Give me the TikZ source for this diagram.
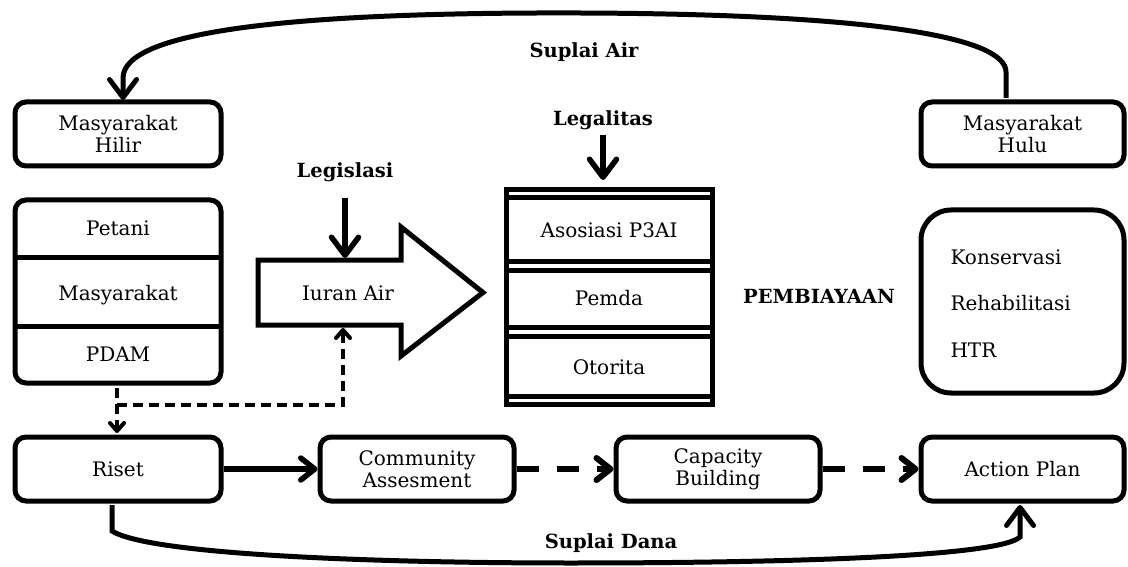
\documentclass[tikz,border=0pt]{standalone}
\usepackage{fontspec}
\setmainfont{DejaVu Serif}
\usetikzlibrary{arrows.meta}
\begin{document}
\begin{tikzpicture}[x=1pt,y=-1pt,
  every node/.style={font=\fontsize{20}{22}\selectfont},
  lbl/.style={font=\fontsize{19.5}{22}\selectfont\bfseries},
  rbox/.style={draw,line width=5pt,rounded corners=11pt,align=center,inner sep=0pt},
  thick4/.style={line width=5.5pt},
  bigtip/.style={-{Straight Barb[length=18pt,width=27pt,line cap=round,line join=round]}},
  medtip/.style={-{Straight Barb[length=14pt,width=22pt,line cap=round,line join=round]}},
  smalltip/.style={-{Straight Barb[length=8pt,width=14pt,line cap=round,line join=round]}},
  dsh/.style={line width=6pt,dash pattern=on 22pt off 18pt},
  dshsmall/.style={line width=4pt,dash pattern=on 10pt off 6pt}
]
\useasboundingbox (0,0) rectangle (1128,567);

% top boxes
\node[rbox,minimum width=206pt,minimum height=64pt] (hilir) at (118,134) {Masyarakat\\Hilir};
\node[rbox,minimum width=203pt,minimum height=64pt] (hulu) at (1022.5,134) {Masyarakat\\Hulu};

% group box
\node[rbox,minimum width=206pt,minimum height=183pt] (grp) at (118,291.5) {};
\draw[line width=5pt] (15,257) -- (221,257);
\draw[line width=5pt] (15,326) -- (221,326);
\node (petani) at (118,228) {Petani};
\node (masy) at (118,295) {Masyarakat};
\node (pdam) at (118,354) {PDAM};

% iuran arrow
\draw[line width=5pt,line join=miter] (258,260) -- (401,260) -- (401,227) -- (483,292.5) -- (401,356) -- (401,325) -- (258,325) -- cycle;
\node (iuran) at (348,293) {Iuran Air};
\coordinate (iurantop) at (345,258);
\coordinate (iuranbot) at (343,328);

\node[lbl] (legis) at (345,172) {Legislasi};
\draw[thick4,bigtip] (345,198) -- (iurantop);

% stack
\node[draw,line width=5pt,minimum width=206pt,minimum height=214pt,inner sep=0pt] (stack) at (609,297) {};
\foreach \yy in {198,261,270,327,336,396} \draw[line width=5pt] (506,\yy) -- (712,\yy);
\node (asos) at (609,230) {Asosiasi P3AI};
\node (pemda) at (609,298) {Pemda};
\node (otor) at (609,367) {Otorita};

\node[lbl] (legal) at (603,120) {Legalitas};
\draw[thick4,bigtip] (603,135) -- (603,180);

\node[lbl] (pemb) at (819,296) {PEMBIAYAAN};

% konservasi box
\node[draw,line width=5pt,rounded corners=30pt,minimum width=203pt,minimum height=183pt,inner sep=0pt] (kons) at (1022.5,301.5) {};
\node[anchor=west] (k1) at (947,257) {Konservasi};
\node[anchor=west] (k2) at (947,303) {Rehabilitasi};
\node[anchor=west] (k3) at (947,350) {HTR};

% bottom row
\node[rbox,minimum width=206pt,minimum height=64pt] (riset) at (118,469) {Riset};
\node[rbox,minimum width=194pt,minimum height=64pt] (comm) at (417,469) {Community\\Assesment};
\node[rbox,minimum width=204pt,minimum height=64pt] (cap) at (718,469) {Capacity\\Building};
\node[rbox,minimum width=203pt,minimum height=64pt] (act) at (1022.5,469) {Action Plan};

\draw[thick4,medtip] (riset.east) -- (comm.west);
\draw[dsh,medtip] (comm.east) -- (cap.west);
\draw[dsh,medtip] (cap.east) -- (act.west);

% dashed from PDAM
\draw[dshsmall,smalltip] (117,388) -- (117,433);
\draw[dshsmall,smalltip] (117,405) -- (343,405) -- (iuranbot);

% top curve (Suplai Air)
\draw[line width=5pt,bigtip] (1006,98) -- (1006,72) .. controls (1006,38) and (880,14) .. (580,13) .. controls (300,12) and (123,30) .. (123,78) -- (123,100);
\node[lbl] (supair) at (584,52) {Suplai Air};

% bottom curve (Suplai Dana)
\draw[line width=5pt,bigtip] (112,505) -- (112,531) .. controls (150,555) and (380,563) .. (570,563) .. controls (800,563) and (1000,556) .. (1020,537) -- (1020,505);
\node[lbl] (supdana) at (611,543) {Suplai Dana};
\end{tikzpicture}
\end{document}
